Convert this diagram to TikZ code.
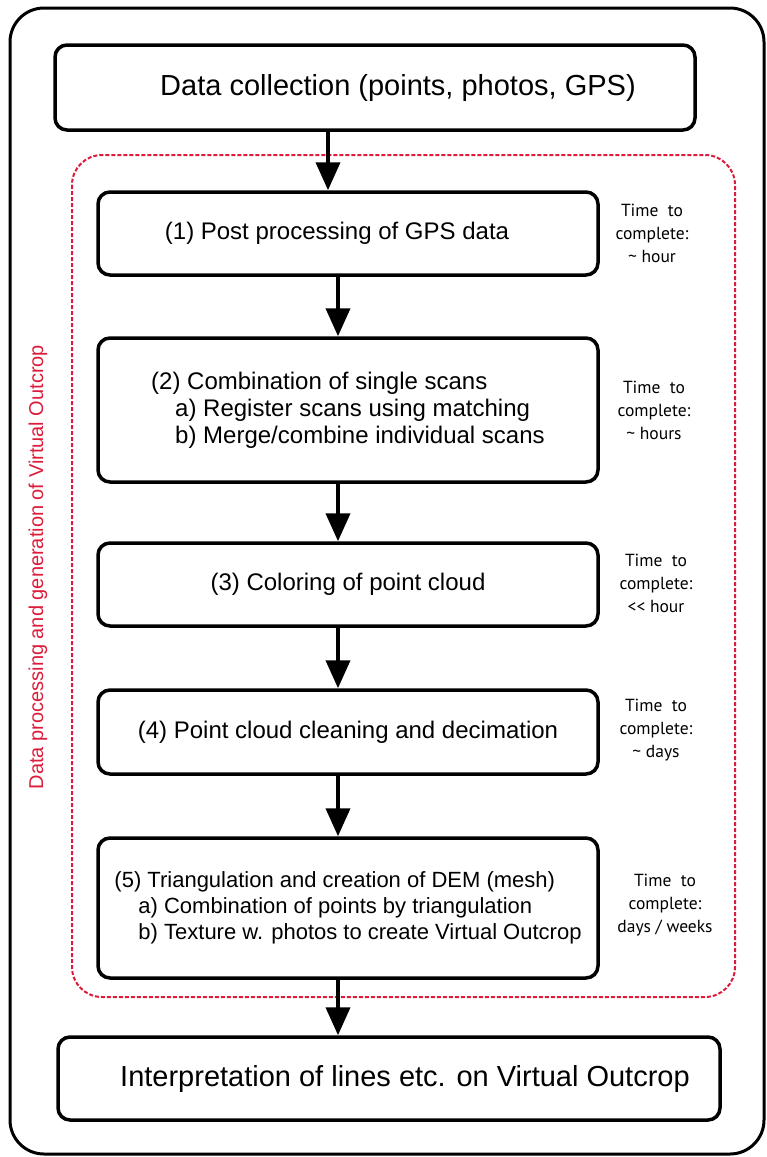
\documentclass[tikz,border=0pt]{standalone}
\usepackage{fontspec}
\setmainfont{Liberation Sans}
\newfontfamily\timefont{PT Sans}
\usetikzlibrary{arrows.meta}
\definecolor{dashred}{RGB}{220,28,58}

\begin{document}
\begin{tikzpicture}[x=1pt, y=-1pt,
         stage/.style={draw, line width=3.5pt, rounded corners=12pt, minimum width=500pt,
            minimum height=83pt, align=left, font=\fontsize{24}{27}\selectfont},
         endstage/.style={stage, font=\fontsize{29}{32}\selectfont},
         timing/.style={align=center, font=\timefont\fontsize{17.5}{23}\selectfont},
         flow/.style={-{Triangle[width=24pt,length=28pt]}, line width=4pt},
         sidelabel/.style={rotate=90, text=dashred, font=\fontsize{20}{22}\selectfont}
      ]
         \useasboundingbox (0,0) rectangle (767,1157);

         % Outer frame and dashed processing area
         \draw[line width=3pt, rounded corners=34pt] (10,8) rectangle (764,1154);
         \draw[dashred, line width=2pt, dash pattern=on 4pt off 2pt, rounded corners=30pt]
            (72,155) rectangle (735,997);
         \node[sidelabel] (side) at (38,567) {Data processing and generation of Virtual Outcrop};

         % Stages
         \node[endstage, minimum width=640pt, minimum height=85pt] (collect) at (375,87.5)
            {\hspace*{46pt}Data collection (points, photos, GPS)};
         \node[stage] (gps) at (348,233.5) {(1) Post processing of GPS data\hspace*{22pt}};
         \node[stage, minimum height=144pt] (combine) at (348,410)
            {(2) Combination of single scans\\
             \hspace*{24pt}a) Register scans using matching\\
             \hspace*{24pt}b) Merge/combine individual scans};
         \node[stage] (color) at (348,584.5) {(3) Coloring of point cloud};
         \node[stage, minimum height=84pt] (clean) at (348,732)
            {(4) Point cloud cleaning and decimation};
         \node[stage, minimum height=140pt, font=\fontsize{22}{26}\selectfont] (mesh) at (348,908)
            {(5) Triangulation and creation of DEM (mesh)\\
             \hspace*{24pt}a) Combination of points by triangulation\\
             \hspace*{24pt}b) Texture w. photos to create Virtual Outcrop};
         \node[endstage, minimum width=662pt] (interpret) at (389,1078.5)
            {\hspace*{32pt}Interpretation of lines etc. on Virtual Outcrop};

         % Time estimates
         \node[timing] (t1) at (652,233) {Time\ \ to\\complete:\\\textasciitilde{} hour};
         \node[timing] (t2) at (654,410) {Time\ \ to\\complete:\\\textasciitilde{} hours};
         \node[timing] (t3) at (656,583) {Time\ \ to\\complete:\\{<}{<} hour};
         \node[timing] (t4) at (656,730) {Time\ \ to\\complete:\\\textasciitilde{} days};
         \node[timing] (t5) at (665,905) {Time\ \ to\\complete:\\days / weeks};

         % Arrows
         \draw[flow] ([xshift=-47pt]collect.south) -- ([xshift=-20pt]gps.north);
         \draw[flow] ([xshift=-10pt]gps.south) -- ([xshift=-10pt]combine.north);
         \draw[flow] ([xshift=-10pt]combine.south) -- ([xshift=-10pt]color.north);
         \draw[flow] ([xshift=-10pt]color.south) -- ([xshift=-10pt]clean.north);
         \draw[flow] ([xshift=-10pt]clean.south) -- ([xshift=-10pt]mesh.north);
         \draw[flow] ([xshift=-10pt]mesh.south) -- ([xshift=-51pt]interpret.north);
      \end{tikzpicture}
\end{document}
